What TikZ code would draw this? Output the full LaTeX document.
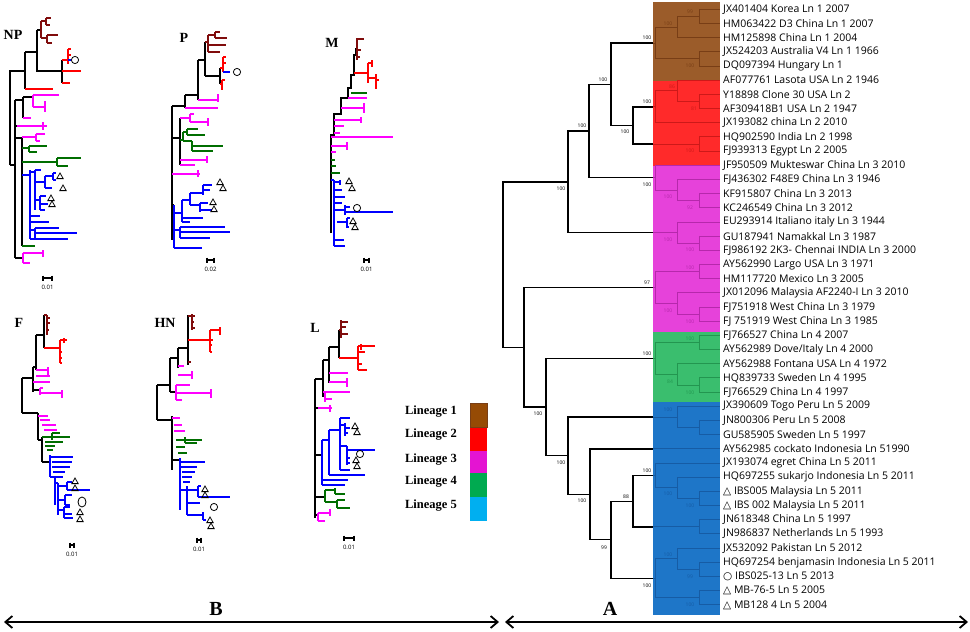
\documentclass[tikz,border=0pt]{standalone}
\usepackage{fontspec}
\setmainfont{Liberation Serif}
\setsansfont{Open Sans}
\newfontfamily\symfont{DejaVu Sans}
\usetikzlibrary{arrows.meta,calc}
\definecolor{boxA}{RGB}{155,92,42}
\definecolor{boxB}{RGB}{255,42,42}
\definecolor{boxC}{RGB}{230,66,218}
\definecolor{boxD}{RGB}{58,190,110}
\definecolor{boxE}{RGB}{30,118,200}
\definecolor{lnA}{RGB}{120,62,22}
\definecolor{lnB}{RGB}{205,25,25}
\definecolor{lnC}{RGB}{182,40,172}
\definecolor{lnD}{RGB}{35,150,80}
\definecolor{lnE}{RGB}{22,92,165}
\definecolor{lgA}{RGB}{150,75,5}
\definecolor{lgB}{RGB}{255,0,0}
\definecolor{lgC}{RGB}{228,20,210}
\definecolor{lgD}{RGB}{0,170,80}
\definecolor{lgE}{RGB}{0,175,240}
\definecolor{tA}{RGB}{128,12,12}
\definecolor{tC}{RGB}{255,0,255}
\definecolor{tD}{RGB}{0,110,0}
\definecolor{tE}{RGB}{0,0,255}
\newcommand\smtri[2]{\draw[line width=0.8pt] (#1-3.2,#2+2.6) -- (#1+3.2,#2+2.6) -- (#1,#2-3) -- cycle;}
\newcommand\smring[2]{\draw[line width=0.8pt] (#1,#2) circle[radius=3.6pt];}
\newcommand\scalebar[4]{\draw[line width=1.3pt] (#1,#3-2.5) -- (#1,#3+2.5) (#1,#3) -- (#2,#3) (#2,#3-2.5) -- (#2,#3+2.5);
  \node[font=\sffamily\fontsize{6}{6}\selectfont, inner sep=0pt] at ({(#1+#2)/2},#3+9) {#4};}
\begin{document}
\begin{tikzpicture}[x=1pt,y=-1pt,
    trunk/.style={line width=1.4pt},
    twig/.style={line width=1pt},
    leaflab/.style={anchor=west, inner sep=3pt, font=\sffamily\fontsize{10.5}{12}\selectfont},
    boot/.style={font=\sffamily\fontsize{5}{5}\selectfont, inner sep=0pt},
    panel/.style={font=\bfseries\fontsize{20}{20}\selectfont, inner sep=0pt},
    tname/.style={font=\bfseries\fontsize{14}{14}\selectfont, inner sep=0pt},
    lglab/.style={font=\bfseries\fontsize{12.5}{13}\selectfont, inner sep=0pt},
    sK/.style={line width=1.1pt, black},
    sA/.style={line width=1.1pt, tA},
    sB/.style={line width=1.1pt, red},
    sC/.style={line width=1.1pt, tC},
    sD/.style={line width=1.1pt, tD},
    sE/.style={line width=1.1pt, tE},
    >={Straight Barb[length=7pt,width=12pt]}]
\useasboundingbox (0,0) rectangle (970,632);

\fill[boxA] (653,2) rectangle (720,81);
\fill[boxB] (653,81) rectangle (720,166);
\fill[boxC] (653,166) rectangle (720,332);
\fill[boxD] (653,332) rectangle (720,402);
\fill[boxE] (653,402) rectangle (720,615);

\foreach \t [count=\i from 0] in {JX401404 Korea Ln 1 2007, HM063422 D3 China Ln 1 2007, HM125898 China Ln 1 2004,
    JX524203 Australia V4 Ln 1 1966, DQ097394 Hungary Ln 1, AF077761 Lasota USA Ln 2 1946, Y18898 Clone 30 USA Ln 2,
    AF309418B1 USA Ln 2 1947, JX193082 china Ln 2 2010, HQ902590 India Ln 2 1998, FJ939313 Egypt Ln 2 2005,
    JF950509 Mukteswar China Ln 3 2010, FJ436302 F48E9 China Ln 3 1946, KF915807 China Ln 3 2013,
    KC246549 China Ln 3 2012, EU293914 Italiano italy Ln 3 1944, GU187941 Namakkal Ln 3 1987,
    FJ986192 2K3- Chennai INDIA Ln 3 2000, AY562990 Largo USA Ln 3 1971, HM117720 Mexico Ln 3 2005,
    JX012096 Malaysia AF2240-I Ln 3 2010, FJ751918 West China Ln 3 1979, FJ 751919 West China Ln 3 1985,
    FJ766527 China Ln 4 2007, AY562989 Dove/Italy Ln 4 2000, AY562988 Fontana USA Ln 4 1972,
    HQ839733 Sweden Ln 4 1995, FJ766529 China Ln 4 1997, JX390609 Togo Peru Ln 5 2009, JN800306 Peru Ln 5 2008,
    GU585905 Sweden Ln 5 1997, AY562985 cockato Indonesia Ln 51990, JX193074 egret China Ln 5 2011,
    HQ697255 sukarjo Indonesia Ln 5 2011, {\symfont △} IBS005 Malaysia Ln 5 2011, {\symfont △} IBS 002 Malaysia Ln 5 2011,
    JN618348 China Ln 5 1997, JN986837 Netherlands Ln 5 1993, JX532092 Pakistan Ln 5 2012,
    HQ697254 benjamasin Indonesia Ln 5 2011, {\symfont ○} IBS025-13 Ln 5 2013, {\symfont △} MB-76-5 Ln 5 2005,
    {\symfont △} MB128 4 Ln 5 2004}
  \node[leaflab] (l\i) at (720,{9.3+14.18*\i}) {\t};

\coordinate (L1aa) at (699,16.4);
\coordinate (L1a) at (677,27.05);
\coordinate (L1b) at (699,58.9);
\coordinate (L1r) at (655,43);
\coordinate (L2aa) at (699,101.5);
\coordinate (L2a) at (677,90.85);
\coordinate (L2r) at (655,106.8);
\coordinate (L2b) at (699,144);
\coordinate (L3aa) at (699,200.7);
\coordinate (L3a) at (677,190.1);
\coordinate (L3r) at (655,177.7);
\coordinate (L3ba) at (699,243.3);
\coordinate (L3b) at (677,232.65);
\coordinate (L3ca) at (699,271.6);
\coordinate (L3cc) at (699,314.2);
\coordinate (L3cb) at (677,303.55);
\coordinate (L3c) at (655,287.6);
\coordinate (L4a) at (699,342.5);
\coordinate (L4ba) at (699,385.1);
\coordinate (L4b) at (677,374.45);
\coordinate (L4r) at (655,358.5);
\coordinate (L5aa) at (699,427.6);
\coordinate (L5a) at (677,417);
\coordinate (L5cb) at (699,498.5);
\coordinate (L5ca) at (677,487.9);
\coordinate (L5c) at (655,475.5);
\coordinate (L5d) at (699,526.9);
\coordinate (L5eb) at (699,569.4);
\coordinate (L5ea) at (677,558.75);
\coordinate (L5ec) at (699,597.8);
\coordinate (L5e) at (655,578.3);

\foreach \e/\c in {e1/L1r, e2a/L2r, e2b/L2b, e3a/L3r, e3b/L3b, e3c/L3c, e4/L4r, e5a/L5a, e5c/L5c, e5d/L5d, e5e/L5e, e5b/l31.west}
  \path let \p1=(\c) in coordinate (\e) at (653pt,\y1);

\coordinate (N4) at (633,125.4);
\coordinate (N3) at (611,84.2);
\coordinate (N2) at (589,131);
\coordinate (N1) at (568,181.8);
\coordinate (N10) at (633,501.2);
\coordinate (N9) at (611,539.75);
\coordinate (N8) at (590,494.3);
\coordinate (N7) at (568,455.65);
\coordinate (N6) at (546,407.1);
\coordinate (N5) at (524,347.35);
\coordinate (R) at (503,264.6);

\draw[trunk] (R) |- (N1) (R) |- (N5)
  (N1) |- (N2) (N1) |- (e3b) (N2) |- (N3) (N2) |- (e3a)
  (N3) |- (e1) (N3) |- (N4) (N4) |- (e2a) (N4) |- (e2b)
  (N5) |- (e3c) (N5) |- (N6) (N6) |- (e4) (N6) |- (N7)
  (N7) |- (e5a) (N7) |- (N8) (N8) |- (e5b) (N8) |- (N9)
  (N9) |- (N10) (N9) |- (e5e) (N10) |- (e5c) (N10) |- (e5d);

\draw[twig, lnA] (e1) -- (L1r) |- (L1a) (L1r) |- (L1b) (L1a) |- (L1aa) (L1a) |- (l2.west)
  (L1aa) |- (l0.west) (L1aa) |- (l1.west) (L1b) |- (l3.west) (L1b) |- (l4.west);
\draw[twig, lnB] (e2a) -- (L2r) |- (L2a) (L2r) |- (l8.west) (L2a) |- (l5.west) (L2a) |- (L2aa)
  (L2aa) |- (l6.west) (L2aa) |- (l7.west) (e2b) -- (L2b) |- (l9.west) (L2b) |- (l10.west);
\draw[twig, lnC] (e3a) -- (L3r) |- (l11.west) (L3r) |- (L3a) |- (l12.west) (L3a) |- (L3aa)
  (L3aa) |- (l13.west) (L3aa) |- (l14.west)
  (e3b) -- (L3b) |- (l15.west) (L3b) |- (L3ba) |- (l16.west) (L3ba) |- (l17.west)
  (e3c) -- (L3c) |- (L3ca) |- (l18.west) (L3ca) |- (l19.west) (L3c) |- (L3cb) |- (l20.west)
  (L3cb) |- (L3cc) |- (l21.west) (L3cc) |- (l22.west);
\draw[twig, lnD] (e4) -- (L4r) |- (L4a) |- (l23.west) (L4a) |- (l24.west) (L4r) |- (L4b) |- (l25.west)
  (L4b) |- (L4ba) |- (l26.west) (L4ba) |- (l27.west);
\draw[twig, lnE] (e5a) -- (L5a) |- (l28.west) (L5a) |- (L5aa) |- (l29.west) (L5aa) |- (l30.west)
  (e5b) -- (l31.west)
  (e5c) -- (L5c) |- (l32.west) (L5c) |- (L5ca) |- (l33.west) (L5ca) |- (L5cb) |- (l34.west) (L5cb) |- (l35.west)
  (e5d) -- (L5d) |- (l36.west) (L5d) |- (l37.west)
  (e5e) -- (L5e) |- (L5ea) |- (l38.west) (L5ea) |- (L5eb) |- (l39.west) (L5eb) |- (l40.west)
  (L5e) |- (L5ec) |- (l41.west) (L5ec) |- (l42.west);

\foreach \x/\y/\v [count=\k] in {561/189/100, 582/126/100, 603/80/100, 625/132/100, 538/414/100, 561/463/100,
    582/501/100, 604/548/99, 626/497/88, 647/38/100, 647/102/100, 647/185/100, 647/283/97, 647/354/100,
    647/471/100, 647/586/100}
  \node[boot] (bk\k) at (\x,\y) {\v};
\foreach \x/\y/\v/\c [count=\k] in {690/12/99/lnA, 668/24/100/lnA, 690/66/100/lnA, 672/87/86/lnB, 694/109/81/lnB,
    690/151/100/lnB, 668/197/100/lnC, 690/208/92/lnC, 668/240/100/lnC, 690/250/100/lnC, 690/268/100/lnC,
    668/311/100/lnC, 690/322/100/lnC, 690/339/100/lnD, 670/382/84/lnD, 690/393/100/lnD, 668/410/100/lnE,
    668/494/100/lnE, 690/506/100/lnE, 668/555/100/lnE, 690/577/99/lnE, 690/605/100/lnE}
  \node[boot, text=\c] (bc\k) at (\x,\y) {\v};

\node[tname] (tNP) at (13,35) {NP};
\draw[sK] (10,165) -- (10,71) -- (25,71) (25,52) -- (25,89) (25,52) -- (37,52) (37,30) -- (37,71) -- (62,71)
  (62,60) -- (62,83) (37,30) -- (41,30);
\draw[sA] (41,21) -- (41,38) (41,21) -- (46,21) (46,18) -- (46,25) (46,18) -- (51,18) (46,25) -- (50,25)
  (41,38) -- (47,38) (47,35) -- (47,43) (47,35) -- (58,35) (47,43) -- (52,43);
\draw[sB] (62,60) -- (68,60) (68,49) -- (68,64) (68,49) -- (71,49) (68,55) -- (71,55) (62,71) -- (81,71)
  (62,83) -- (70,83) (25,89) -- (53,89);
\draw[sE] (68,60) -- (71,60);
\smring{75}{60}
\draw[sK] (10,165) -- (15,165) (15,100) -- (15,258) (15,100) -- (23,100) (23,97) -- (23,118) (23,97) -- (33,97)
  (15,126) -- (17,126) (15,138) -- (22,138) (22,137) -- (22,246) (15,258) -- (23,258);
\draw[sC] (33,95) -- (33,107) (33,95) -- (59,95) (33,107) -- (45,107) (45,101) -- (45,112) (23,118) -- (31,118)
  (17,126) -- (47,126) (43,122) -- (43,130) (22,137) -- (36,137) (36,134) -- (36,141) (36,134) -- (45,134)
  (36,141) -- (40,141) (23,253) -- (23,263) (23,253) -- (43,253) (43,250) -- (43,257) (23,263) -- (30,263);
\draw[sD] (22,148) -- (29,148) (29,146) -- (29,152) (29,146) -- (47,146) (29,152) -- (37,152)
  (22,162) -- (57,162) (57,158) -- (57,166) (57,158) -- (81,158) (57,166) -- (68,166) (22,246) -- (35,246);
\draw[sE] (22,175) -- (30,175) (30,170) -- (30,239) (30,172) -- (35,172) (35,170) -- (35,210) (35,170) -- (41,170)
  (35,182) -- (45,182) (45,176) -- (45,188) (45,176) -- (53,176) (53,173) -- (53,180) (53,173) -- (56,173)
  (53,180) -- (56,180) (45,188) -- (52,188) (35,200) -- (40,200) (40,196) -- (40,210) (40,196) -- (46,196)
  (40,204) -- (48,204) (40,210) -- (45,210) (30,216) -- (40,216) (30,222) -- (49,222) (30,230) -- (35,230)
  (35,228) -- (35,239) (35,228) -- (59,228) (35,233) -- (77,233) (30,239) -- (68,239);
\smtri{60}{176} \smtri{63}{188} \smtri{51}{198} \smtri{52}{204}
\scalebar{43}{52}{278}{0.01}

\node[tname] (tP) at (184,38) {P};
\draw[sK] (172,106) -- (172,240) (172,106) -- (185,106) (185,95) -- (185,108) (185,95) -- (198,95)
  (198,60) -- (198,100) (198,60) -- (205,60) (205,42) -- (205,76) (205,76) -- (220,76) (220,68) -- (220,84)
  (172,138) -- (180,138) (180,118) -- (180,165) (172,205) -- (174,205);
\draw[sA] (205,42) -- (208,42) (208,35) -- (208,52) (208,35) -- (215,35) (215,32) -- (215,38) (215,32) -- (220,32)
  (215,38) -- (227,38) (208,45) -- (226,45) (208,52) -- (220,52);
\draw[sB] (220,68) -- (223,68) (223,57) -- (223,72) (223,57) -- (226,57) (223,63) -- (226,63) (220,84) -- (222,84)
  (222,80) -- (222,90) (222,80) -- (225,80);
\draw[sE] (223,72) -- (230,72);
\smring{237}{72}
\draw[sC] (198,100) -- (218,100) (218,94) -- (218,102) (185,108) -- (218,108) (180,118) -- (190,118)
  (190,114) -- (190,122) (190,114) -- (194,114) (190,122) -- (208,122) (208,118) -- (208,126)
  (180,160) -- (207,160) (207,156) -- (207,163) (180,165) -- (195,165) (172,174) -- (200,174) (198,170) -- (198,177);
\draw[sD] (180,140) -- (183,140) (183,132) -- (183,141) (183,132) -- (187,132) (187,129) -- (187,135)
  (187,129) -- (198,129) (187,135) -- (205,135) (183,141) -- (192,141) (192,141) -- (192,151)
  (192,146) -- (223,146) (192,151) -- (213,151);
\draw[sE] (174,205) -- (174,248) (174,213) -- (182,213) (182,200) -- (182,222) (182,200) -- (190,200)
  (190,193) -- (190,205) (190,193) -- (203,193) (203,185) -- (203,195) (203,185) -- (212,185) (203,190) -- (210,190)
  (190,205) -- (200,205) (200,203) -- (200,212) (200,203) -- (208,203) (200,210) -- (212,210) (182,218) -- (203,218)
  (182,222) -- (190,222) (174,230) -- (180,230) (180,227) -- (180,238) (180,227) -- (225,227) (180,232) -- (230,232)
  (180,238) -- (210,238) (174,248) -- (202,248);
\smtri{220}{182} \smtri{223}{188} \smtri{213}{202} \smtri{214}{209}
\scalebar{207}{214}{260}{0.02}

\node[tname] (tM) at (332,43) {M};
\draw[sK] (331,233) -- (331,135) -- (334,135) -- (334,114) -- (341,114) -- (341,98) -- (348,98) -- (348,88)
  -- (351,88) -- (351,75) -- (354,75) -- (354,55) -- (356,55) -- (356,48);
\draw[sA] (356,48) -- (357,48) (357,38) -- (357,60) (357,39) -- (364,39) (357,50) -- (361,50) (357,57) -- (360,57);
\draw[sB] (354,73) -- (368,73) (368,63) -- (368,83) (368,63) -- (372,63) (372,60) -- (372,67) (368,78) -- (376,78)
  (376,74) -- (376,89) (376,80) -- (379,80);
\draw[sD] (351,93) -- (367,93) (331,160) -- (335,160) (331,166) -- (336,166) (331,173) -- (340,173);
\draw[sC] (348,98) -- (367,98) (341,108) -- (364,108) (364,103) -- (364,113) (334,120) -- (361,120)
  (361,117) -- (361,123) (334,126) -- (344,126) (331,137) -- (393,137) (334,133) -- (340,133)
  (331,146) -- (347,146) (347,142) -- (347,150) (331,152) -- (336,152);
\draw[sE] (331,180) -- (334,180) (334,180) -- (334,246) (334,182) -- (340,182) (340,180) -- (340,185)
  (334,190) -- (342,190) (334,197) -- (345,197) (334,203) -- (342,203) (334,210) -- (345,210) (345,205) -- (345,215)
  (345,207) -- (350,207) (345,212) -- (393,212) (337,222) -- (347,222) (347,218) -- (347,228) (347,218) -- (350,218)
  (347,227) -- (349,227) (334,240) -- (344,240) (334,246) -- (345,246);
\smtri{349}{181} \smtri{352}{188} \smtri{353}{221} \smtri{355}{227}
\smring{357}{208}
\scalebar{364}{369}{260}{0.01}

\node[tname] (tF) at (19,323) {F};
\draw[sK] (22,378) -- (22,413) (22,378) -- (33,378) (33,367) -- (33,392) (33,367) -- (36,367) (36,335) -- (36,370)
  (36,335) -- (44,335) (44,315) -- (44,348) (33,390) -- (40,390);
\draw[sK, line width=2pt] (22,413) -- (38,413);
\draw[sK] (38,413) -- (38,440) (38,440) -- (42,440) (42,437) -- (42,462) (42,462) -- (50,462);
\draw[sA] (44,315) -- (47,315) (47,315) -- (47,335) (47,318) -- (50,318) (47,323) -- (50,323) (47,330) -- (49,330);
\draw[sB] (44,348) -- (60,348) (60,340) -- (60,363) (60,340) -- (67,340) (64,338) -- (64,343) (60,352) -- (62,352)
  (60,358) -- (62,358) (60,363) -- (62,363);
\draw[sC] (36,370) -- (48,370) (48,367) -- (48,376) (36,376) -- (50,376) (33,382) -- (50,382) (40,388) -- (40,395)
  (40,388) -- (43,388) (40,393) -- (62,393) (62,390) -- (62,398) (38,416) -- (48,416) (40,420) -- (50,420)
  (42,425) -- (56,425) (44,430) -- (57,430);
\draw[sD] (42,437) -- (70,437) (52,433) -- (52,440) (52,433) -- (60,433) (45,442) -- (63,442) (45,446) -- (55,446)
  (47,450) -- (53,450);
\draw[sE] (50,455) -- (50,477) (50,457) -- (73,457) (52,462) -- (72,462) (52,467) -- (70,467) (53,472) -- (65,472)
  (53,477) -- (63,477) (50,477) -- (55,477) (55,477) -- (55,505) (55,483) -- (58,483) (58,483) -- (58,515)
  (58,486) -- (67,486) (67,482) -- (67,490) (67,482) -- (72,482) (67,490) -- (90,490) (58,500) -- (65,500)
  (65,495) -- (65,505) (65,495) -- (72,495) (65,505) -- (70,505) (58,510) -- (64,510) (64,507) -- (64,518)
  (64,507) -- (70,507) (64,514) -- (72,514) (64,518) -- (73,518);
\smtri{75}{481} \smtri{75}{488} \smtri{80}{512} \smtri{80}{519}
\draw[line width=0.8pt] (82,502) ellipse[x radius=4pt, y radius=5pt];
\scalebar{70}{74}{545}{0.01}

\node[tname] (tHN) at (165,323) {HN};
\draw[sK] (157,385) -- (157,420) (157,385) -- (170,385) (170,358) -- (170,392) (170,358) -- (178,358)
  (178,348) -- (178,368) (178,348) -- (188,348) (188,315) -- (188,365) (170,392) -- (176,392)
  (157,420) -- (172,420) (172,416) -- (172,470) (172,460) -- (180,460);
\draw[sA] (188,316) -- (192,316) (192,314) -- (192,330) (192,316) -- (195,316) (192,322) -- (194,322)
  (192,328) -- (195,328) (188,362) -- (191,362);
\draw[sB] (188,340) -- (210,340) (210,330) -- (210,352) (210,330) -- (220,330) (220,327) -- (220,335)
  (210,340) -- (213,340) (210,345) -- (212,345) (210,352) -- (212,352);
\draw[sC] (178,375) -- (192,375) (192,371) -- (192,379) (178,366) -- (184,366) (176,385) -- (190,385)
  (176,385) -- (176,400) (176,393) -- (211,393) (211,389) -- (211,398) (176,400) -- (182,400)
  (172,418) -- (180,418) (174,425) -- (182,425) (174,431) -- (185,431);
\draw[sD] (176,440) -- (202,440) (185,437) -- (185,443) (185,443) -- (197,443) (176,447) -- (185,447)
  (178,453) -- (187,453);
\draw[sE] (180,458) -- (180,510) (180,462) -- (205,462) (180,467) -- (197,467) (182,472) -- (195,472)
  (182,477) -- (192,477) (183,482) -- (190,482) (180,490) -- (187,490) (187,486) -- (187,515) (187,490) -- (198,490)
  (198,486) -- (198,497) (198,486) -- (201,486) (198,497) -- (230,497) (187,503) -- (200,503)
  (187,515) -- (203,515) (203,512) -- (203,520) (203,520) -- (206,520);
\smtri{205}{489} \smtri{205}{495} \smtri{210}{520} \smtri{211}{526}
\smring{214}{507}
\scalebar{197}{201}{540}{0.01}

\node[tname] (tL) at (315,328) {L};
\draw[sK] (315,379) -- (315,518) (315,379) -- (323,379) (323,360) -- (323,397) (323,360) -- (329,360)
  (329,347) -- (329,383) (329,347) -- (339,347) (339,330) -- (339,358) (315,408) -- (318,408)
  (315,455) -- (322,455) (315,497) -- (325,497) (315,515) -- (318,515);
\draw[sK, line width=2.6pt] (315,420) -- (315,485);
\draw[sA] (339,330) -- (341,330) (341,320) -- (341,338) (341,322) -- (348,322) (341,327) -- (346,327)
  (341,334) -- (348,334);
\draw[sB] (339,358) -- (358,358) (358,346) -- (358,370) (358,346) -- (375,346) (361,344) -- (361,350)
  (358,352) -- (365,352) (358,364) -- (362,364) (358,370) -- (367,370);
\draw[sC] (329,373) -- (348,373) (329,382) -- (347,382) (347,378) -- (347,387) (323,392) -- (350,392)
  (325,392) -- (325,402) (325,399) -- (332,399) (318,408) -- (332,408) (330,405) -- (330,412)
  (318,513) -- (318,521) (318,513) -- (330,513) (330,509) -- (330,516) (318,521) -- (325,521);
\draw[sE] (322,440) -- (322,485) (322,440) -- (329,440) (329,430) -- (329,475) (329,430) -- (340,430)
  (340,418) -- (340,470) (340,418) -- (350,418) (340,425) -- (345,425) (345,423) -- (345,436) (345,428) -- (350,428)
  (345,433) -- (348,433) (340,446) -- (347,446) (347,446) -- (347,465) (347,450) -- (375,450)
  (347,458) -- (350,458) (347,463) -- (350,463) (340,470) -- (350,470) (329,475) -- (365,475)
  (322,480) -- (348,480) (322,485) -- (345,485);
\draw[sD] (325,490) -- (325,502) (325,490) -- (335,490) (335,488) -- (335,494) (335,494) -- (345,494)
  (325,502) -- (337,502) (337,500) -- (337,508) (337,500) -- (345,500) (337,508) -- (350,508);
\smtri{355}{426} \smtri{357}{432} \smtri{356}{460} \smtri{357}{466}
\smring{360}{454}
\scalebar{344}{354}{538}{0.01}

\foreach \c/\y [count=\k] in {lgA/403, lgB/427, lgC/451, lgD/473, lgE/497}
  \fill[\c] (470,\y) rectangle (487,\y+24);
\draw[lnA, line width=0.6pt] (470,403) rectangle (487,427);
\foreach \y [count=\k] in {412, 435, 460, 482, 506}
  \node[lglab] (lg\k) at (431,\y) {Lineage \k};

\node[panel] (pB) at (216,609) {B};
\node[panel] (pA) at (610,609) {A};
\coordinate (bL) at (4,622);
\coordinate (bR) at (499,622);
\coordinate (aL) at (505,622);
\coordinate (aR) at (968,622);
\draw[<->, line width=1.8pt] (bL) -- (bR);
\draw[<->, line width=1.8pt] (aL) -- (aR);
\end{tikzpicture}
\end{document}
